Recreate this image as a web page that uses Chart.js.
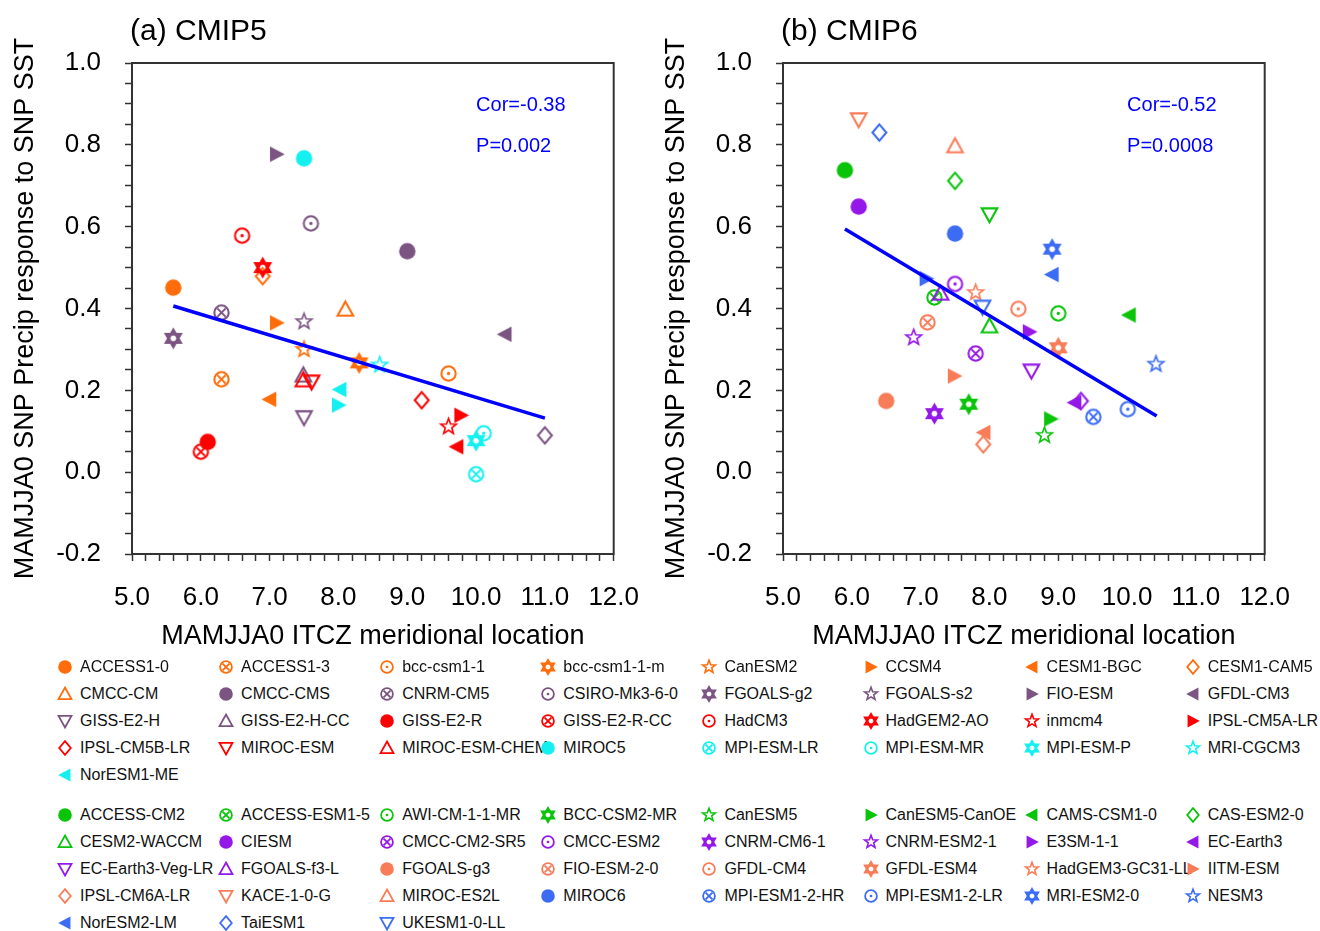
<!DOCTYPE html>
<html lang="en">
<head>
<meta charset="UTF-8">
<title>ITCZ location vs SNP precipitation response</title>
<script src="https://cdn.jsdelivr.net/npm/chart.js@4"></script>
<style>
  body { margin: 0; background: #fff; font-family: 'Liberation Sans', Arial, Helvetica, sans-serif; }
  #page { position: relative; width: 1320px; height: 931px; overflow: hidden; background: #fff; }
  canvas.panel { position: absolute; top: 0; }
  .key { position: absolute; height: 20px; white-space: nowrap; font-size: 16px; line-height: 20px; color: #111; }
  .key canvas { position: absolute; left: 0; top: 0; }
  .key span { position: absolute; left: 25px; top: 0; }
</style>
</head>
<body>
<div id="page">
  <canvas id="cmip5" class="panel" width="660" height="660" style="left:0"></canvas>
  <canvas id="cmip6" class="panel" width="660" height="660" style="left:651px"></canvas>
</div>
<script>
const xTickLabels = ['5.0', '6.0', '7.0', '8.0', '9.0', '10.0', '11.0', '12.0'];
const yTickLabels = ['-0.2', '0.0', '0.2', '0.4', '0.6', '0.8', '1.0'];

// CMIP5, legend order. The last three are plotted but have no legend entry (null).
const cmip5Models = [
  'ACCESS1-0', 'ACCESS1-3', 'bcc-csm1-1', 'bcc-csm1-1-m', 'CanESM2', 'CCSM4', 'CESM1-BGC', 'CESM1-CAM5',
  'CMCC-CM', 'CMCC-CMS', 'CNRM-CM5', 'CSIRO-Mk3-6-0', 'FGOALS-g2', 'FGOALS-s2', 'FIO-ESM', 'GFDL-CM3',
  'GISS-E2-H', 'GISS-E2-H-CC', 'GISS-E2-R', 'GISS-E2-R-CC', 'HadCM3', 'HadGEM2-AO', 'inmcm4', 'IPSL-CM5A-LR',
  'IPSL-CM5B-LR', 'MIROC-ESM', 'MIROC-ESM-CHEM', 'MIROC5', 'MPI-ESM-LR', 'MPI-ESM-MR', 'MPI-ESM-P', 'MRI-CGCM3',
  'NorESM1-ME', null, null, null
];
const cmip5Itcz = [
  5.6, 6.3, 9.6, 8.3, 7.5, 7.1, 7.0, 6.9,
  8.1, 9.0, 6.3, 7.6, 5.6, 7.5, 7.1, 10.42,
  7.5, 7.49, 6.1, 6.0, 6.6, 6.9, 9.6, 9.78,
  9.21, 7.61, 7.49, 7.5, 10.0, 10.11, 10.0, 8.6,
  8.02, 11.0, 9.72, 8.0
];
const cmip5Resp = [
  0.451, 0.227, 0.241, 0.267, 0.300, 0.365, 0.178, 0.479,
  0.398, 0.540, 0.390, 0.608, 0.327, 0.368, 0.777, 0.337,
  0.134, 0.237, 0.074, 0.050, 0.578, 0.500, 0.111, 0.139,
  0.176, 0.221, 0.225, 0.767, -0.005, 0.095, 0.077, 0.262,
  0.202, 0.090, 0.062, 0.164
];
const cmip5Group = [
  0, 0, 0, 0, 0, 0, 0, 0,
  0, 1, 1, 1, 1, 1, 1, 1,
  1, 1, 2, 2, 2, 2, 2, 2,
  2, 2, 2, 3, 3, 3, 3, 3,
  3, 1, 2, 3
];
const cmip5Shape = [
  'dot', 'cx', 'cdot', 'hex', 'star', 'rtri', 'ltri', 'diamond',
  'utri', 'dot', 'cx', 'cdot', 'hex', 'star', 'rtri', 'ltri',
  'dtri', 'utri', 'dot', 'cx', 'cdot', 'hex', 'star', 'rtri',
  'diamond', 'dtri', 'utri', 'dot', 'cx', 'cdot', 'hex', 'star',
  'ltri', 'diamond', 'ltri', 'rtri'
];
const cmip5FitX = [5.6, 11.0];
const cmip5FitY = [0.406, 0.132];
const cmip5Stats = ['Cor=-0.38', 'P=0.002'];

// CMIP6, legend order. The last four are plotted but have no legend entry (null).
const cmip6Models = [
  'ACCESS-CM2', 'ACCESS-ESM1-5', 'AWI-CM-1-1-MR', 'BCC-CSM2-MR', 'CanESM5', 'CanESM5-CanOE', 'CAMS-CSM1-0', 'CAS-ESM2-0',
  'CESM2-WACCM', 'CIESM', 'CMCC-CM2-SR5', 'CMCC-ESM2', 'CNRM-CM6-1', 'CNRM-ESM2-1', 'E3SM-1-1', 'EC-Earth3',
  'EC-Earth3-Veg-LR', 'FGOALS-f3-L', 'FGOALS-g3', 'FIO-ESM-2-0', 'GFDL-CM4', 'GFDL-ESM4', 'HadGEM3-GC31-LL', 'IITM-ESM',
  'IPSL-CM6A-LR', 'KACE-1-0-G', 'MIROC-ES2L', 'MIROC6', 'MPI-ESM1-2-HR', 'MPI-ESM1-2-LR', 'MRI-ESM2-0', 'NESM3',
  'NorESM2-LM', 'TaiESM1', 'UKESM1-0-LL', null, null, null, null
];
const cmip6Itcz = [
  5.9, 7.2, 9.0, 7.7, 8.8, 8.89, 10.03, 7.5,
  8.0, 6.1, 7.8, 7.5, 7.2, 6.9, 8.58, 9.24,
  8.61, 7.29, 6.5, 7.1, 8.42, 9.0, 7.8, 7.49,
  7.91, 6.1, 7.5, 7.5, 9.51, 10.01, 8.91, 10.42,
  8.91, 6.4, 7.9, 8.0, 9.33, 7.92, 7.08
];
const cmip6Resp = [
  0.738, 0.427, 0.388, 0.166, 0.090, 0.130, 0.384, 0.712,
  0.357, 0.649, 0.290, 0.460, 0.143, 0.329, 0.343, 0.170,
  0.248, 0.437, 0.174, 0.366, 0.399, 0.304, 0.439, 0.235,
  0.068, 0.862, 0.797, 0.583, 0.135, 0.154, 0.545, 0.264,
  0.483, 0.830, 0.404, 0.630, 0.174, 0.097, 0.473
];
const cmip6Group = [
  0, 0, 0, 0, 0, 0, 0, 0,
  0, 1, 1, 1, 1, 1, 1, 1,
  1, 1, 2, 2, 2, 2, 2, 2,
  2, 2, 2, 3, 3, 3, 3, 3,
  3, 3, 3, 0, 1, 2, 3
];
const cmip6Shape = [
  'dot', 'cx', 'cdot', 'hex', 'star', 'rtri', 'ltri', 'diamond',
  'utri', 'dot', 'cx', 'cdot', 'hex', 'star', 'rtri', 'ltri',
  'dtri', 'utri', 'dot', 'cx', 'cdot', 'hex', 'star', 'rtri',
  'diamond', 'dtri', 'utri', 'dot', 'cx', 'cdot', 'hex', 'star',
  'ltri', 'diamond', 'dtri', 'dtri', 'diamond', 'ltri', 'rtri'
];
const cmip6FitX = [5.9, 10.43];
const cmip6FitY = [0.594, 0.137];
const cmip6Stats = ['Cor=-0.52', 'P=0.0008'];

const cmip5Colors = ['#ff6c0a', '#7b5482', '#ff0000', '#14f0f0'];
const cmip6Colors = ['#0ac40a', '#9418e8', '#f97c58', '#3b6cf3'];

const FONT = '"Liberation Sans", Arial, Helvetica, sans-serif';

function drawShape(ctx, shape, color, cx, cy, r) {
  ctx.strokeStyle = color;
  ctx.fillStyle = color;
  ctx.lineWidth = Math.max(1.8, r / 4);
  const poly = (pts, fill) => {
    ctx.beginPath();
    pts.forEach(([px, py], i) => {
      if (i) ctx.lineTo(cx + px * r, cy + py * r);
      else ctx.moveTo(cx + px * r, cy + py * r);
    });
    ctx.closePath();
    if (fill) ctx.fill(); else ctx.stroke();
  };
  switch (shape) {
    case 'dot':
      ctx.beginPath(); ctx.arc(cx, cy, r, 0, 2 * Math.PI); ctx.fill();
      break;
    case 'cx': {
      ctx.beginPath(); ctx.arc(cx, cy, r - ctx.lineWidth / 2, 0, 2 * Math.PI); ctx.stroke();
      const d = r * 0.5;
      ctx.beginPath();
      ctx.moveTo(cx - d, cy - d); ctx.lineTo(cx + d, cy + d);
      ctx.moveTo(cx + d, cy - d); ctx.lineTo(cx - d, cy + d);
      ctx.stroke();
      break;
    }
    case 'cdot':
      ctx.beginPath(); ctx.arc(cx, cy, r - ctx.lineWidth / 2, 0, 2 * Math.PI); ctx.stroke();
      ctx.beginPath(); ctx.arc(cx, cy, Math.max(1.3, r * 0.2), 0, 2 * Math.PI); ctx.fill();
      break;
    case 'hex':
      ctx.lineWidth = Math.max(2.2, r / 3);
      poly([[0, -1], [0.866, 0.5], [-0.866, 0.5]]);
      poly([[0, 1], [0.866, -0.5], [-0.866, -0.5]]);
      break;
    case 'star': {
      const pts = [];
      for (let k = 0; k < 10; k++) {
        const a = -Math.PI / 2 + k * Math.PI / 5;
        const rr = k % 2 ? 0.42 : 1;
        pts.push([rr * Math.cos(a), rr * Math.sin(a)]);
      }
      ctx.lineWidth = Math.max(1.6, r / 5);
      poly(pts);
      break;
    }
    case 'rtri': poly([[1, 0], [-0.8, -0.95], [-0.8, 0.95]], true); break;
    case 'ltri': poly([[-1, 0], [0.8, -0.95], [0.8, 0.95]], true); break;
    case 'diamond': poly([[0, -1], [0.85, 0], [0, 1], [-0.85, 0]]); break;
    case 'utri': poly([[0, -0.95], [0.95, 0.75], [-0.95, 0.75]]); break;
    case 'dtri': poly([[0, 0.95], [0.95, -0.75], [-0.95, -0.75]]); break;
  }
}

function markerImage(shape, color, r) {
  const c = document.createElement('canvas');
  c.width = c.height = Math.ceil(2 * r + 6);
  drawShape(c.getContext('2d'), shape, color, c.width / 2, c.height / 2, r);
  return c;
}

// frame, panel title and correlation text
const panelText = {
  id: 'panelText',
  afterDraw(chart, args, opts) {
    const { ctx, chartArea: a, scales: { x, y } } = chart;
    ctx.save();
    ctx.strokeStyle = '#333';
    ctx.lineWidth = 2;
    ctx.strokeRect(a.left, a.top, a.right - a.left, a.bottom - a.top);
    ctx.fillStyle = '#000';
    ctx.font = '30px ' + FONT;
    ctx.textBaseline = 'alphabetic';
    ctx.fillText(opts.title, a.left - 2, 40);
    ctx.fillStyle = '#0000ff';
    ctx.font = '20px ' + FONT;
    ctx.textBaseline = 'middle';
    opts.stats.forEach((s, i) => {
      ctx.fillText(s, x.getPixelForValue(10.0), y.getPixelForValue(0.9 - 0.1 * i) + 2);
    });
    ctx.restore();
  }
};

function makePanel(id, title, itcz, resp, group, shape, colors, fitX, fitY, stats) {
  const points = itcz.map((v, i) => ({ x: v, y: resp[i] }));
  const markers = shape.map((s, i) => markerImage(s, colors[group[i]], 8.2));
  const fit = fitX.map((v, i) => ({ x: v, y: fitY[i] }));
  const tickCommon = {
    drawOnChartArea: false, drawTicks: true, tickLength: 7, tickWidth: 1.5, tickColor: '#333'
  };
  return new Chart(document.getElementById(id), {
    type: 'scatter',
    data: {
      datasets: [
        { type: 'line', data: fit, borderColor: '#0000ff', borderWidth: 3.5, pointRadius: 0, fill: false },
        { data: points, pointStyle: markers, pointRadius: 8, pointHoverRadius: 8 }
      ]
    },
    options: {
      responsive: false,
      animation: false,
      events: [],
      layout: { padding: { left: 0, right: 38, top: 63, bottom: 0 } },
      plugins: {
        legend: { display: false },
        tooltip: { enabled: false },
        panelText: { title: title, stats: stats }
      },
      scales: {
        x: {
          type: 'linear', min: 5, max: 12,
          border: { display: false },
          grid: tickCommon,
          afterFit: s => { s.height = 106; },
          ticks: {
            stepSize: 0.2, autoSkip: false, maxRotation: 0, padding: 21, color: '#000',
            font: { family: FONT, size: 26 },
            callback: (v, i) => (i % 5 === 0 ? xTickLabels[i / 5] : '')
          },
          title: {
            display: true, text: 'MAMJJA0 ITCZ meridional location', color: '#000',
            font: { family: FONT, size: 27 }, padding: { top: 0, bottom: 7 }
          }
        },
        y: {
          min: -0.2, max: 1.0,
          border: { display: false },
          grid: tickCommon,
          afterFit: s => { s.width = 132; },
          ticks: {
            stepSize: 0.05, autoSkip: false, padding: 24, color: '#000',
            font: { family: FONT, size: 26 },
            callback: (v, i) => (i % 4 === 0 ? yTickLabels[i / 4] : '')
          },
          title: {
            display: true, text: 'MAMJJA0 SNP Precip response to SNP SST', color: '#000',
            font: { family: FONT, size: 27 }, padding: { top: 9, bottom: 0 }
          }
        }
      }
    },
    plugins: [panelText]
  });
}

function buildLegend(models, group, shape, colors, firstRowY) {
  const page = document.getElementById('page');
  let k = 0;
  models.forEach((name, i) => {
    if (!name) return;
    const col = k % 8, row = Math.floor(k / 8);
    k++;
    const item = document.createElement('div');
    item.className = 'key';
    item.style.left = (65 + col * 161.1 - 10) + 'px';
    item.style.top = (firstRowY + row * 27 - 10) + 'px';
    const c = document.createElement('canvas');
    c.width = c.height = 20;
    drawShape(c.getContext('2d'), shape[i], colors[group[i]], 10, 10, 6.8);
    const t = document.createElement('span');
    t.textContent = name;
    item.append(t, c);
    page.appendChild(item);
  });
}

makePanel('cmip5', '(a) CMIP5', cmip5Itcz, cmip5Resp, cmip5Group, cmip5Shape, cmip5Colors, cmip5FitX, cmip5FitY, cmip5Stats);
makePanel('cmip6', '(b) CMIP6', cmip6Itcz, cmip6Resp, cmip6Group, cmip6Shape, cmip6Colors, cmip6FitX, cmip6FitY, cmip6Stats);
buildLegend(cmip5Models, cmip5Group, cmip5Shape, cmip5Colors, 667);
buildLegend(cmip6Models, cmip6Group, cmip6Shape, cmip6Colors, 815);
</script>
</body>
</html>
